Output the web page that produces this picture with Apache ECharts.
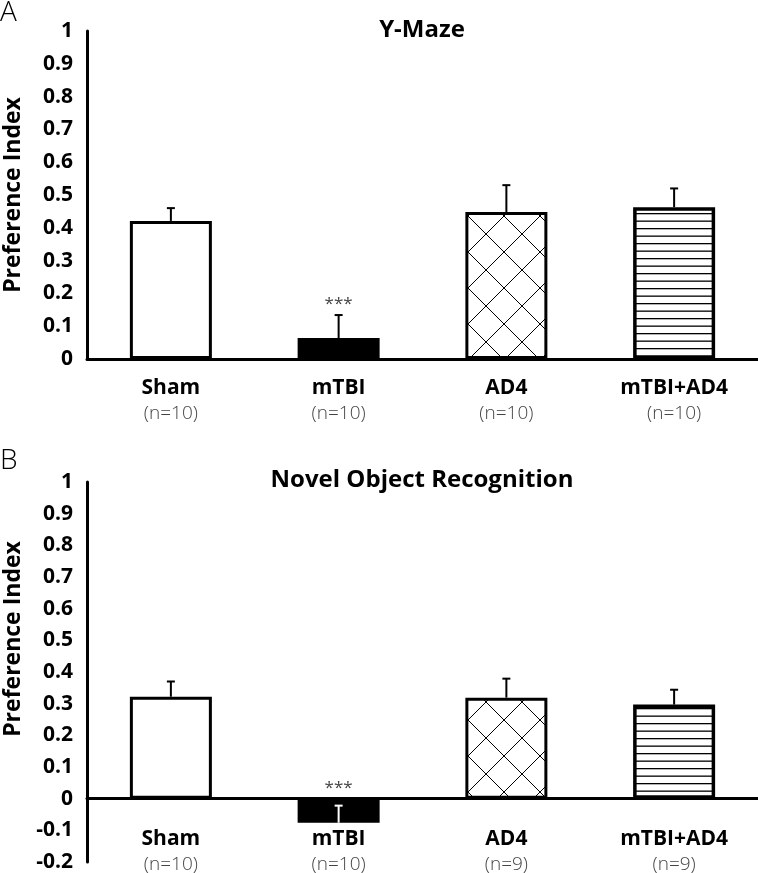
<!DOCTYPE html>
<html><head><meta charset="utf-8">
<script src="https://cdn.jsdelivr.net/npm/echarts@6/dist/echarts.min.js"></script>
<style>html,body{margin:0;padding:0;background:#fff}#c{width:758px;height:873px}</style>
</head><body><div id="c"></div>
<script>
// ---- data ----
const categories = ['Sham', 'mTBI', 'AD4', 'mTBI+AD4'];
const nA = ['n=10', 'n=10', 'n=10', 'n=10'];
const nB = ['n=10', 'n=10', 'n=9', 'n=9'];
const yMazeMean = [0.421, 0.064, 0.448, 0.463];
const yMazeErrTop = [0.46, 0.134, 0.53, 0.52];
const yMazeStars = ['', '***', '', ''];
const norMean = [0.322, -0.076, 0.319, 0.297];
const norErrTop = [0.37, -0.022, 0.379, 0.344];
const norStars = ['', '***', '', ''];
const yTicksA = { min: 0, max: 1, interval: 0.1 };
const yTicksB = { min: -0.2, max: 1, interval: 0.1 };

// ---- patterns ----
function crossPattern() {
  const c = document.createElement('canvas'); c.width = 36; c.height = 36;
  const g = c.getContext('2d');
  g.fillStyle = '#fff'; g.fillRect(0, 0, 36, 36);
  g.strokeStyle = '#000'; g.lineWidth = 1;
  g.beginPath();
  g.moveTo(-2, -2); g.lineTo(38, 38);
  g.moveTo(38, -2); g.lineTo(-2, 38);
  g.stroke();
  return c;
}
function hLinePattern() {
  const c = document.createElement('canvas'); c.width = 8; c.height = 15;
  const g = c.getContext('2d');
  g.fillStyle = '#fff'; g.fillRect(0, 0, 8, 15);
  g.fillStyle = '#000';
  g.fillRect(0, 3, 8, 1.3);
  g.fillRect(0, 10.5, 8, 1.3);
  return c;
}
const FONT = '"Open Sans", "Noto Sans", sans-serif';
const barStyles = [
  { color: '#fff', borderColor: '#000', borderWidth: 3 },
  { color: '#000', borderColor: '#000', borderWidth: 3 },
  { color: { image: crossPattern(), repeat: 'repeat' }, borderColor: '#000', borderWidth: 3 },
  { color: { image: hLinePattern(), repeat: 'repeat' }, borderColor: '#000', borderWidth: 3.5 }
];

function errSeries(gridIdx, means, tops, stars) {
  return {
    type: 'custom', xAxisIndex: gridIdx, yAxisIndex: gridIdx, z: 5,
    data: means.map((m, i) => [i, m, tops[i]]),
    renderItem: function (params, api) {
      const i = api.value(0), m = api.value(1), t = api.value(2);
      const p0 = api.coord([i, m]);
      const p1 = api.coord([i, t]);
      const col = t < 0 ? '#fff' : '#000';
      const children = [
        { type: 'line', shape: { x1: p0[0], y1: p0[1], x2: p1[0], y2: p1[1] }, style: { stroke: col, lineWidth: 2 } },
        { type: 'line', shape: { x1: p1[0] - 4, y1: p1[1], x2: p1[0] + 4, y2: p1[1] }, style: { stroke: col, lineWidth: 2 } }
      ];
      const s = stars[i];
      if (s) {
        const ref = api.coord([i, Math.max(t, m, 0)]);
        children.push({ type: 'text', x: ref[0], y: ref[1] - 11, style: { text: s, fill: '#444', font: '17px ' + FONT, align: 'center', verticalAlign: 'middle' } });
      }
      return { type: 'group', children: children };
    }
  };
}

function xAxisCfg(gridIdx, ns, margin) {
  return {
    type: 'category', gridIndex: gridIdx, data: categories,
    axisLine: { onZero: true, lineStyle: { color: '#000', width: 3 } },
    axisTick: { show: false },
    axisLabel: {
      margin: margin, interval: 0,
      formatter: (v, i) => '{b|' + v + '}\n{n|(' + ns[i] + ')}',
      rich: {
        b: { fontFamily: FONT, fontWeight: 'bold', fontSize: 21, color: '#000', lineHeight: 26 },
        n: { fontFamily: FONT, fontWeight: 300, fontSize: 19, color: '#444', lineHeight: 26 }
      }
    }
  };
}
function yAxisCfg(gridIdx, t) {
  return {
    type: 'value', gridIndex: gridIdx, min: t.min, max: t.max, interval: t.interval,
    axisLine: { show: true, onZero: false, lineStyle: { color: '#000', width: 3 } },
    axisTick: { show: false }, splitLine: { show: false },
    axisLabel: { margin: 14, fontFamily: FONT, fontWeight: 'bold', fontSize: 21, color: '#000',
      formatter: v => String(Math.round(v * 10) / 10) }
  };
}

const chart = echarts.init(document.getElementById('c'), null, { renderer: 'canvas' });
chart.setOption({
  animation: false,
  backgroundColor: '#fff',
  grid: [
    { left: 87, top: 31, width: 671, height: 328, outerBoundsMode: 'none', containLabel: false },
    { left: 87, top: 482, width: 671, height: 380, outerBoundsMode: 'none', containLabel: false }
  ],
  xAxis: [xAxisCfg(0, nA, 16), xAxisCfg(1, nB, -36)],
  yAxis: [yAxisCfg(0, yTicksA), yAxisCfg(1, yTicksB)],
  graphic: [
    { type: 'text', x: 0, y: 13, style: { text: 'A', font: '300 28px ' + FONT, fill: '#000', verticalAlign: 'middle' } },
    { type: 'text', x: 0, y: 461, style: { text: 'B', font: '300 28px ' + FONT, fill: '#000', verticalAlign: 'middle' } },
    { type: 'text', x: 422, y: 30, style: { text: 'Y-Maze', font: 'bold 24px ' + FONT, fill: '#000', align: 'center', verticalAlign: 'middle' } },
    { type: 'text', x: 422, y: 480, style: { text: 'Novel Object Recognition', font: 'bold 24px ' + FONT, fill: '#000', align: 'center', verticalAlign: 'middle' } },
    { type: 'text', x: 13, y: 195, rotation: Math.PI / 2, style: { text: 'Preference Index', font: 'bold 23px ' + FONT, fill: '#000', align: 'center', verticalAlign: 'middle' } },
    { type: 'text', x: 13, y: 639, rotation: Math.PI / 2, style: { text: 'Preference Index', font: 'bold 23px ' + FONT, fill: '#000', align: 'center', verticalAlign: 'middle' } }
  ],
  series: [
    { type: 'bar', xAxisIndex: 0, yAxisIndex: 0, barWidth: 82,
      data: yMazeMean.map((v, i) => ({ value: v, itemStyle: barStyles[i] })) },
    errSeries(0, yMazeMean, yMazeErrTop, yMazeStars),
    { type: 'bar', xAxisIndex: 1, yAxisIndex: 1, barWidth: 82,
      data: norMean.map((v, i) => ({ value: v, itemStyle: barStyles[i] })) },
    errSeries(1, norMean, norErrTop, norStars)
  ]
});
</script>
</body></html>
